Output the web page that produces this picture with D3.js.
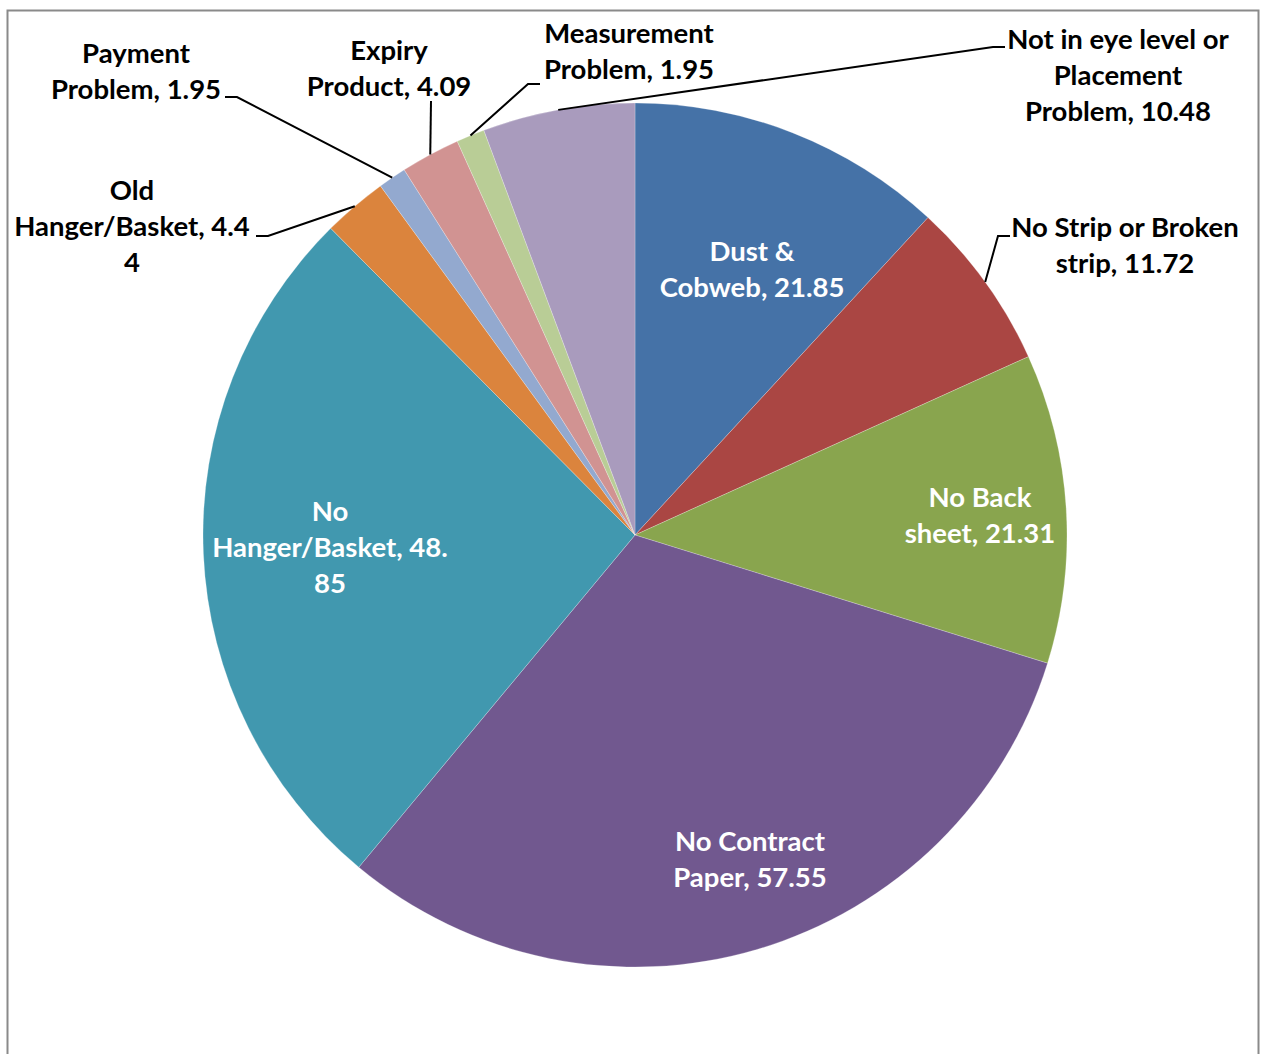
<!DOCTYPE html>
<html>
<head>
<meta charset="utf-8">
<script src="https://cdn.jsdelivr.net/npm/d3@7"></script>
<style>
  body { margin: 0; background: #ffffff; }
  svg text { font-family: Lato, "Open Sans", sans-serif; font-weight: 700; }
</style>
</head>
<body>
<svg id="chart" width="1262" height="1054"></svg>
<script>
// Categories in drawing order (clockwise from 12 o'clock)
const categories = [
  "Dust & Cobweb",
  "No Strip or Broken strip",
  "No Back sheet",
  "No Contract Paper",
  "No Hanger/Basket",
  "Old Hanger/Basket",
  "Payment Problem",
  "Expiry Product",
  "Measurement Problem",
  "Not in eye level or Placement Problem"
];
const values = [21.85, 11.72, 21.31, 57.55, 48.85, 4.44, 1.95, 4.09, 1.95, 10.48];

// Data label text, wrapped line by line
const labelLines = [
  ["Dust &", "Cobweb, 21.85"],
  ["No Strip or Broken", "strip, 11.72"],
  ["No Back", "sheet, 21.31"],
  ["No Contract", "Paper, 57.55"],
  ["No", "Hanger/Basket, 48.", "85"],
  ["Old", "Hanger/Basket, 4.4", "4"],
  ["Payment", "Problem, 1.95"],
  ["Expiry", "Product, 4.09"],
  ["Measurement", "Problem, 1.95"],
  ["Not in eye level or", "Placement", "Problem, 10.48"]
];

const sliceColors = [
  "#4572A7", "#AA4643", "#89A54E", "#71588F", "#4198AF",
  "#DB843D", "#93A9CF", "#D19392", "#B9CD96", "#A99BBD"
];

// Geometry
const width = 1262, height = 1054;
const cx = 635, cy = 535, radius = 432;
const lineStep = 36;

// Label placement: text centre x and first baseline y (relative to pie centre),
// whether the text sits inside the slice, and the leader stub (relative to centre).
const labelLayout = [
  { x: 117,  y: -274, inside: true },
  { x: 490,  y: -298, stub: [[375, -299], [363, -299]] },
  { x: 345,  y: -28,  inside: true },
  { x: 115,  y: 316,  inside: true },
  { x: -305, y: -14,  inside: true },
  { x: -503, y: -335, stub: [[-379, -299], [-367, -299]] },
  { x: -499, y: -472, stub: [[-410, -438], [-398, -438]] },
  { x: -246, y: -475, stub: [[-204, -434]] },
  { x: -6,   y: -492, stub: [[-95, -451], [-107, -451]] },
  { x: 483,  y: -486, stub: [[370, -488], [358, -488]] }
];

const svg = d3.select("#chart");

// Chart area border
svg.append("rect")
  .attr("x", 7.5).attr("y", 10.5)
  .attr("width", 1251).attr("height", 1070)
  .attr("fill", "#ffffff")
  .attr("stroke", "#8a8a8a")
  .attr("stroke-width", 2);

const pie = d3.pie().sort(null).value(d => d)
  .startAngle(0).endAngle(2 * Math.PI);
const arcs = pie(values);

const arc = d3.arc().innerRadius(0).outerRadius(radius);
const rimArc = d3.arc().innerRadius(radius).outerRadius(radius);

const g = svg.append("g").attr("transform", `translate(${cx},${cy})`);

g.selectAll("path.slice")
  .data(arcs)
  .join("path")
  .attr("class", "slice")
  .attr("d", arc)
  .attr("fill", (d, i) => sliceColors[i])
  .attr("stroke", "#ffffff")
  .attr("stroke-width", 0.4)
  .attr("stroke-opacity", 0.6);

// Leader lines for labels placed outside the pie
arcs.forEach((d, i) => {
  const lay = labelLayout[i];
  if (lay.inside) return;
  const pts = lay.stub.concat([rimArc.centroid(d)]);
  g.append("path")
    .attr("d", d3.line()(pts))
    .attr("fill", "none")
    .attr("stroke", "#000000")
    .attr("stroke-width", 2);
});

// Data labels
arcs.forEach((d, i) => {
  const lay = labelLayout[i];
  const t = g.append("text")
    .attr("text-anchor", "middle")
    .attr("font-size", 27.5)
    .attr("fill", lay.inside ? "#ffffff" : "#000000");
  labelLines[i].forEach((line, k) => {
    t.append("tspan")
      .attr("x", lay.x)
      .attr("y", lay.y + k * lineStep)
      .text(line);
  });
});
</script>
</body>
</html>
